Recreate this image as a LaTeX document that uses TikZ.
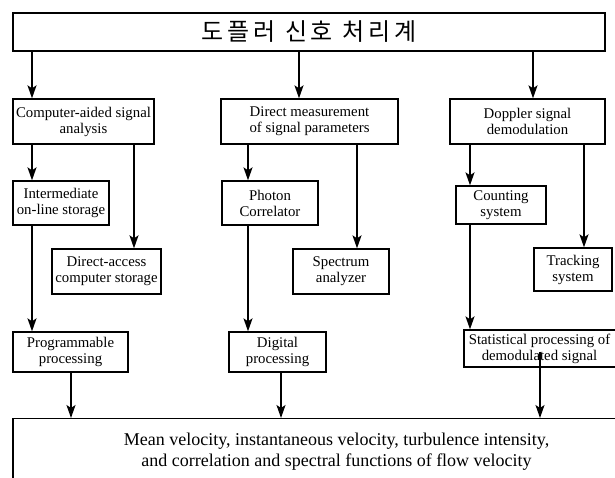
\documentclass[tikz,border=0pt]{standalone}
\usepackage{fontspec}
\setmainfont{Liberation Serif}
\newfontfamily\krfont[LetterSpace=16]{Noto Sans CJK KR}
\usetikzlibrary{arrows.meta}
\tikzset{
  box/.style={draw, line width=1.3pt, inner sep=0pt, align=center,
    font=\fontsize{14.8}{16}\selectfont},
  arr/.style={line width=1.6pt, -{Stealth[length=13pt,width=9pt,inset=3pt]}},
}
\begin{document}
\begin{tikzpicture}[x=1pt,y=-1pt]
\useasboundingbox (0,0) rectangle (615,478);
\clip (0,0) rectangle (615,478);
% column x positions for connectors
\coordinate (c1) at (32,0);
\coordinate (c2) at (134,0);
\coordinate (c3) at (71,0);
\coordinate (c4) at (248,0);
\coordinate (c5) at (299,0);
\coordinate (c6) at (357,0);
\coordinate (c7) at (281,0);
\coordinate (c8) at (470,0);
\coordinate (c9) at (533,0);
\coordinate (c10) at (584,0);
\coordinate (c11) at (540,0);

\node[box, minimum width=592pt, minimum height=38pt] (top) at (309,32)
  {\krfont\fontsize{24}{26}\selectfont 도플러 신호 처리계};

\node[box, minimum width=141pt, minimum height=45pt] (A) at (83.5,121.5)
  {Computer-aided signal\\analysis};
\node[box, minimum width=177pt, minimum height=45pt] (B) at (309.5,121.5)
  {Direct measurement\\of signal parameters};
\node[box, minimum width=155pt, minimum height=45pt] (C) at (527.5,121.5)
  {Doppler signal\\demodulation};

\node[box, minimum width=96pt, minimum height=44pt] (inter) at (61,203)
  {Intermediate\\on-line storage};
\node[box, minimum width=109pt, minimum height=45pt] (da) at (106.5,271.5)
  {Direct-access\\computer storage};
\node[box, minimum width=96pt, minimum height=44pt] (photon) at (270,203)
  {Photon\\Correlator};
\node[box, minimum width=96pt, minimum height=45pt] (spec) at (341,271.5)
  {Spectrum\\analyzer};
\node[box, minimum width=90pt, minimum height=38pt] (count) at (501,205)
  {Counting\\system};
\node[box, minimum width=78pt, minimum height=43pt] (track) at (573,269.5)
  {Tracking\\system};

\node[box, minimum width=115pt, minimum height=40pt] (prog) at (70.5,352)
  {Programmable\\processing};
\node[box, minimum width=97pt, minimum height=40pt] (dig) at (277.5,352)
  {Digital\\processing};
\node[box, minimum width=160pt, minimum height=37pt] (stat) at (544,348.5)
  {Statistical processing of\hspace*{9pt}\\demodulated signal\hspace*{9pt}};

\node[box, minimum width=647pt, minimum height=82pt, anchor=north,
  font=\fontsize{18}{20}\selectfont] (res) at (336.5,418)
  {\raisebox{20pt}{\shortstack{Mean velocity, instantaneous velocity, turbulence intensity,\\[1pt]and correlation and spectral functions of flow velocity}}};

% connectors
\draw[arr] (top.south -| c1) -- (A.north -| c1);
\draw[arr] (top.south -| c5) -- (B.north -| c5);
\draw[arr] (top.south -| c9) -- (C.north -| c9);

\draw[arr] (A.south -| c1) -- (inter.north -| c1);
\draw[arr] (A.south -| c2) -- (da.north -| c2);
\draw[arr] (inter.south -| c1) -- (prog.north -| c1);

\draw[arr] (B.south -| c4) -- (photon.north -| c4);
\draw[arr] (B.south -| c6) -- (spec.north -| c6);
\draw[arr] (photon.south -| c4) -- (dig.north -| c4);

\draw[arr] (C.south -| c8) -- (count.north -| c8);
\draw[arr] (C.south -| c10) -- (track.north -| c10);
\draw[arr] (count.south -| c8) -- (stat.north -| c8);

\draw[arr] (prog.south -| c3) -- (res.north -| c3);
\draw[arr] (dig.south -| c7) -- (res.north -| c7);
\draw[arr] ([yshift=-3pt]stat.center -| c11) -- (res.north -| c11);
\end{tikzpicture}
\end{document}
